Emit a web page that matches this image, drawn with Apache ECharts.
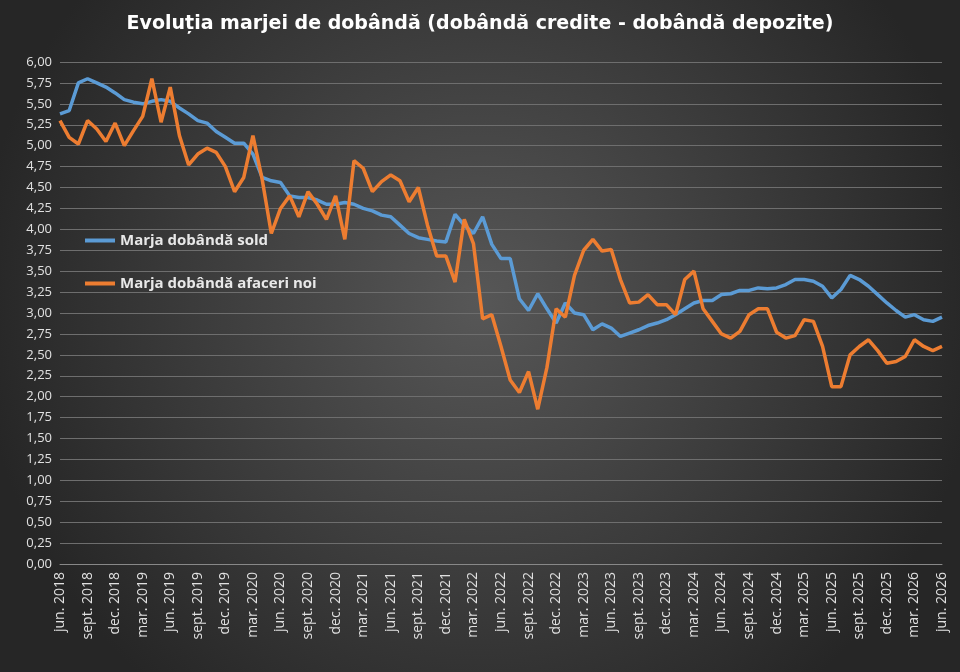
<!DOCTYPE html>
<html>
<head>
<meta charset="utf-8">
<script src="https://cdn.jsdelivr.net/npm/echarts@6/dist/echarts.min.js"></script>
<style>html,body{margin:0;padding:0;background:#333}#chart{width:960px;height:672px}</style>
</head>
<body>
<div id="chart"></div>
<script>
var monthNames = ['jun.', 'iul.', 'aug.', 'sept.', 'oct.', 'nov.', 'dec.', 'ian.', 'feb.', 'mar.', 'apr.', 'mai'];
var startYear = 2018;

var sold = [5.38, 5.42, 5.75, 5.80, 5.75, 5.70, 5.63, 5.55, 5.52, 5.50, 5.53, 5.55, 5.53, 5.45, 5.38,
    5.30, 5.27, 5.17, 5.10, 5.03, 5.03, 4.90, 4.62, 4.58, 4.56, 4.40, 4.38, 4.38, 4.35, 4.30,
    4.30, 4.32, 4.30, 4.25, 4.22, 4.17, 4.15, 4.05, 3.95, 3.90, 3.88, 3.86, 3.85, 4.18, 4.05,
    3.95, 4.15, 3.82, 3.65, 3.65, 3.17, 3.03, 3.23, 3.05, 2.88, 3.12, 3.00, 2.98, 2.80, 2.87,
    2.82, 2.72, 2.76, 2.80, 2.85, 2.88, 2.92, 2.98, 3.05, 3.12, 3.15, 3.15, 3.22, 3.23, 3.27,
    3.27, 3.30, 3.29, 3.30, 3.34, 3.40, 3.40, 3.38, 3.32, 3.18, 3.28, 3.45, 3.40, 3.32, 3.22,
    3.12, 3.03, 2.95, 2.98, 2.92, 2.90, 2.95];

var afaceriNoi = [5.30, 5.10, 5.02, 5.30, 5.20, 5.05, 5.27, 5.00, 5.18, 5.35, 5.80, 5.28, 5.70, 5.12, 4.77,
    4.90, 4.97, 4.92, 4.75, 4.45, 4.62, 5.12, 4.60, 3.95, 4.25, 4.40, 4.15, 4.45, 4.30, 4.12,
    4.40, 3.88, 4.82, 4.73, 4.45, 4.57, 4.65, 4.58, 4.33, 4.50, 4.05, 3.68, 3.68, 3.37, 4.12,
    3.83, 2.93, 2.98, 2.60, 2.20, 2.05, 2.30, 1.85, 2.35, 3.05, 2.95, 3.45, 3.75, 3.88, 3.74,
    3.76, 3.40, 3.12, 3.13, 3.22, 3.10, 3.10, 2.98, 3.40, 3.50, 3.05, 2.90, 2.75, 2.70, 2.78,
    2.98, 3.05, 3.05, 2.77, 2.70, 2.73, 2.92, 2.90, 2.60, 2.12, 2.12, 2.50, 2.60, 2.68, 2.55,
    2.40, 2.42, 2.48, 2.68, 2.60, 2.55, 2.60];

var categories = [];
for (var i = 0; i < sold.length; i++) {
    var year = startYear + Math.floor((i + 5) / 12);
    categories.push(monthNames[i % 12] + ' ' + year);
}

var chart = echarts.init(document.getElementById('chart'));
chart.setOption({
    backgroundColor: {
        type: 'radial', x: 0.5, y: 0.45, r: 0.75,
        colorStops: [{ offset: 0, color: '#575757' }, { offset: 1, color: '#262626' }]
    },
    title: {
        text: 'Evoluția marjei de dobândă (dobândă credite - dobândă depozite)',
        left: 'center', top: 10,
        textStyle: { color: '#ffffff', fontSize: 19, fontWeight: 'bold', fontFamily: 'DejaVu Sans' }
    },
    legend: {
        orient: 'vertical', left: 80, top: 228, itemGap: 28,
        itemWidth: 30, itemHeight: 4, icon: 'rect',
        textStyle: { color: '#e8e8e8', fontSize: 15, fontWeight: 'bold', fontFamily: 'Open Sans' },
        data: ['Marja dobândă sold', 'Marja dobândă afaceri noi']
    },
    grid: { left: 60, right: 18, top: 62, bottom: 108 },
    xAxis: {
        type: 'category', boundaryGap: false, data: categories,
        axisLine: { lineStyle: { color: '#888' } },
        axisTick: { show: false },
        axisLabel: {
            interval: 2, rotate: 90, color: '#e0e0e0', fontSize: 14, fontFamily: 'Open Sans'
        }
    },
    yAxis: {
        type: 'value', min: 0, max: 6, interval: 0.25,
        axisLabel: {
            color: '#e0e0e0', fontSize: 13, fontFamily: 'Open Sans',
            formatter: function (v) { return v.toFixed(2).replace('.', ','); }
        },
        splitLine: { lineStyle: { color: '#6e6e6e' } }
    },
    series: [{
        name: 'Marja dobândă sold', type: 'line', data: sold, showSymbol: false,
        lineStyle: { width: 3.5, color: '#5b9bd5' }, itemStyle: { color: '#5b9bd5' }
    }, {
        name: 'Marja dobândă afaceri noi', type: 'line', data: afaceriNoi, showSymbol: false,
        lineStyle: { width: 3.5, color: '#ed7d31' }, itemStyle: { color: '#ed7d31' }
    }]
});
</script>
</body>
</html>
